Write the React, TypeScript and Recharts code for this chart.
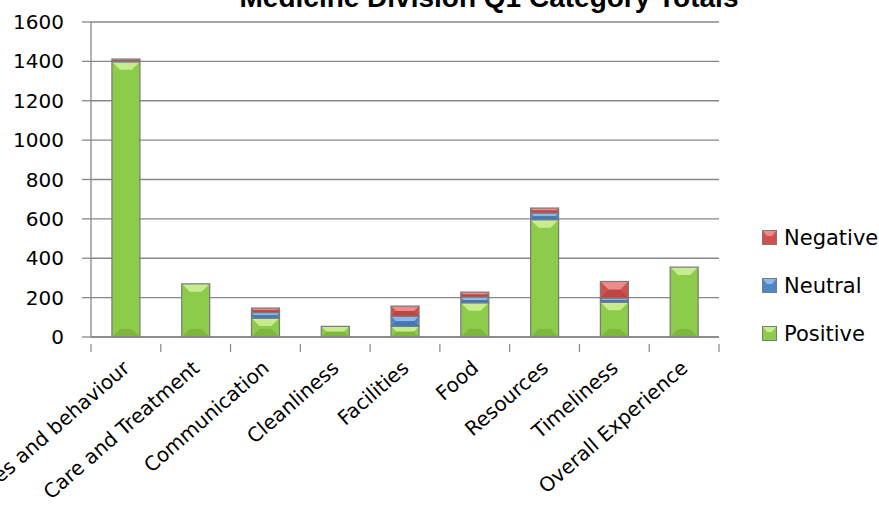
import React from 'react';
import { BarChart, Bar, XAxis, YAxis, CartesianGrid } from 'recharts';

const categories = [
  'Attitudes and behaviour',
  'Care and Treatment',
  'Communication',
  'Cleanliness',
  'Facilities',
  'Food',
  'Resources',
  'Timeliness',
  'Overall Experience',
];
const positive = [1398, 270, 96, 54, 54, 174, 596, 177, 355];
const neutral = [4, 0, 28, 0, 52, 29, 34, 21, 0];
const negative = [10, 0, 23, 0, 51, 25, 25, 84, 0];
const yTicks = [0, 200, 400, 600, 800, 1000, 1200, 1400, 1600];
const legendOrder = ['Negative', 'Neutral', 'Positive'];
const title = 'Medicine Division Q1 Category Totals';

const data = categories.map((name, i) => ({
  name,
  Positive: positive[i],
  Neutral: neutral[i],
  Negative: negative[i],
}));

const COLORS: Record<string, { base: string; light: string; dark: string }> = {
  Positive: { base: '#8DCB4A', light: '#C6EC8E', dark: '#7DB83D' },
  Neutral: { base: '#4F86C6', light: '#8DB8EA', dark: '#4577B2' },
  Negative: { base: '#D0504D', light: '#F08A88', dark: '#BC4643' },
};

const GRID = '#878787';
const FONT = '"DejaVu Sans", sans-serif';

const makeShape = (key: string) => (props: any) => {
  const { x, y, width, height } = props;
  if (!height || height <= 0) return <g />;
  const c = COLORS[key];
  const d = Math.min(8, height / 2, width / 2);
  return (
    <g>
      <rect x={x} y={y} width={width} height={height} fill={c.base} />
      <polygon
        points={`${x},${y} ${x + width},${y} ${x + width - d},${y + d} ${x + d},${y + d}`}
        fill={c.light}
      />
      <polygon
        points={`${x},${y + height} ${x + width},${y + height} ${x + width - d},${y + height - d} ${x + d},${y + height - d}`}
        fill={c.dark}
      />
      <rect x={x} y={y} width={width} height={height} fill="none" stroke="#7a7a7a" strokeWidth={1.2} />
    </g>
  );
};

const XTick = (props: any) => {
  const { x, y, payload, index, visibleTicksCount } = props;
  const half = payload && payload.offset ? payload.offset : 34.9;
  const lx = x - half;
  const rx = x + half;
  const tx = x + 5;
  const ty = y + 25;
  return (
    <g>
      <line x1={lx} y1={y - 1} x2={lx} y2={y + 7} stroke={GRID} strokeWidth={1.2} />
      {index === (visibleTicksCount ?? categories.length) - 1 && (
        <line x1={rx} y1={y - 1} x2={rx} y2={y + 7} stroke={GRID} strokeWidth={1.2} />
      )}
      <text
        x={tx}
        y={ty}
        textAnchor="end"
        fontSize={20}
        fontFamily={FONT}
        fill="#000"
        transform={`rotate(-41, ${tx}, ${ty})`}
      >
        {payload.value}
      </text>
    </g>
  );
};

export default function App() {
  return (
    <div style={{ position: 'absolute', left: 0, top: 0, width: 879, height: 511, background: '#fff', overflow: 'hidden' }}>
      <BarChart
        width={879}
        height={511}
        data={data}
        margin={{ top: 22, right: 160, left: 0, bottom: 0 }}
        barCategoryGap="30%"
      >
        <CartesianGrid vertical={false} stroke={GRID} strokeWidth={1.3} />
        <XAxis
          dataKey="name"
          height={174}
          interval={0}
          tickLine={false}
          axisLine={{ stroke: GRID, strokeWidth: 1.3 }}
          tick={<XTick />}
        />
        <YAxis
          width={91}
          domain={[0, 1600]}
          ticks={yTicks}
          interval={0}
          tickSize={9}
          tickMargin={18}
          axisLine={{ stroke: GRID, strokeWidth: 1.3 }}
          tickLine={{ stroke: GRID, strokeWidth: 1.3 }}
          tick={{ fontSize: 20, fill: '#000', fontFamily: FONT }}
        />
        <Bar dataKey="Positive" stackId="a" isAnimationActive={false} shape={makeShape('Positive')} fill={COLORS.Positive.base} />
        <Bar dataKey="Neutral" stackId="a" isAnimationActive={false} shape={makeShape('Neutral')} fill={COLORS.Neutral.base} />
        <Bar dataKey="Negative" stackId="a" isAnimationActive={false} shape={makeShape('Negative')} fill={COLORS.Negative.base} />
      </BarChart>
      <div style={{ position: 'absolute', left: 762, top: 214, width: 117 }}>
        {legendOrder.map((key) => {
          const c = COLORS[key];
          return (
            <div key={key} style={{ height: 48, display: 'flex', alignItems: 'center' }}>
              <svg width={16} height={16} style={{ marginRight: 6, flex: 'none' }}>
                <rect x={0.5} y={0.5} width={14} height={14} fill={c.base} stroke="#7a7a7a" strokeWidth={1} />
                <polygon points="1,1 14,1 10,6 5,6" fill={c.light} />
              </svg>
              <span style={{ fontFamily: FONT, fontSize: 21, color: '#000', lineHeight: '24px', whiteSpace: 'nowrap' }}>
                {key}
              </span>
            </div>
          );
        })}
      </div>
      <svg
        width={879}
        height={511}
        style={{ position: 'absolute', left: 0, top: 0, pointerEvents: 'none' }}
      >
        <text
          x={489}
          y={7}
          textAnchor="middle"
          fontFamily='"Liberation Sans", Arial, sans-serif'
          fontWeight="bold"
          fontSize={28}
          fill="#000"
        >
          {title}
        </text>
      </svg>
    </div>
  );
}
